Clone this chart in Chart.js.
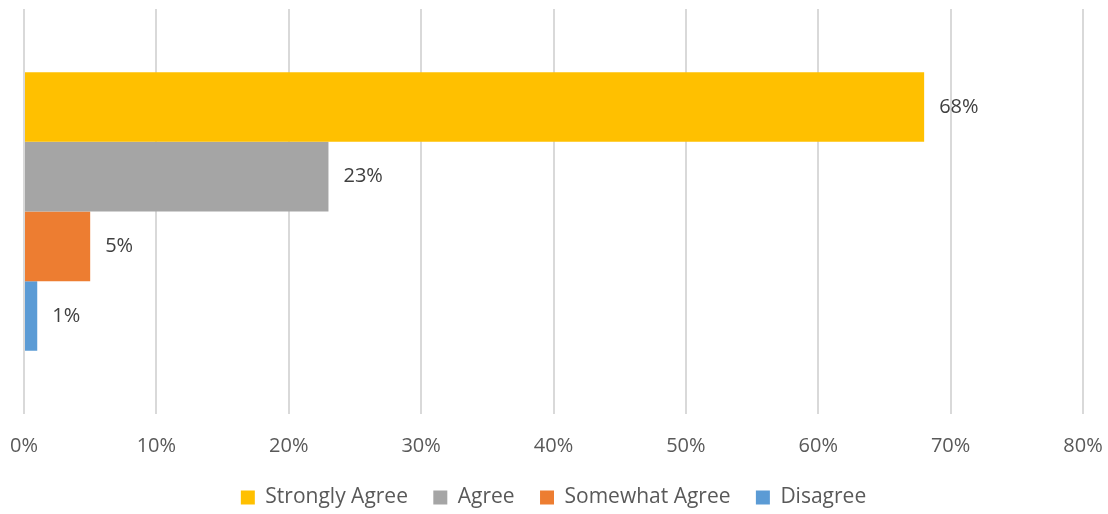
<!DOCTYPE html>
<html>
<head>
<meta charset="utf-8">
<script src="https://cdn.jsdelivr.net/npm/chart.js@4"></script>
<style>
  html, body { margin: 0; padding: 0; background: #fff; }
  #wrap { width: 1108px; height: 514px; }
</style>
</head>
<body>
<div id="wrap"><canvas id="myChart"></canvas></div>
<script>
var categories = [''];
var seriesNames = ['Strongly Agree', 'Agree', 'Somewhat Agree', 'Disagree'];
var seriesValues = [[68], [23], [5], [1]];
var seriesColors = ['#FFC000', '#A5A5A5', '#ED7D31', '#5B9BD5'];
var tickValues = [0, 10, 20, 30, 40, 50, 60, 70, 80];

var font = "'Open Sans', sans-serif";

// draws the value to the right of each bar
var valueLabels = {
  id: 'valueLabels',
  afterDatasetsDraw: function(chart) {
    var c = chart.ctx;
    c.save();
    c.font = '20px ' + font;
    c.fillStyle = '#404040';
    c.textBaseline = 'middle';
    c.textAlign = 'left';
    chart.data.datasets.forEach(function(ds, i) {
      chart.getDatasetMeta(i).data.forEach(function(bar, j) {
        c.fillText(ds.data[j] + '%', bar.x + 15, bar.y);
      });
    });
    c.restore();
  }
};

// legend box a little shorter so it sits lower, like the original
var legendTrim = {
  id: 'legendTrim',
  afterInit: function(chart) {
    var lg = chart.legend;
    if (!lg) return;
    var fit = lg.fit;
    lg.fit = function() {
      fit.call(this);
      this.height -= 4;
    };
  }
};

var ctx = document.getElementById('myChart').getContext('2d');
var myChart = new Chart(ctx, {
  type: 'bar',
  data: {
    labels: categories,
    datasets: seriesNames.map(function(name, i) {
      return {
        label: name,
        data: seriesValues[i],
        backgroundColor: seriesColors[i],
        categoryPercentage: 0.688,
        barPercentage: 1
      };
    })
  },
  options: {
    indexAxis: 'y',
    responsive: true,
    maintainAspectRatio: false,
    animation: false,
    layout: { padding: { left: 24, right: 25, top: 9, bottom: 0 } },
    scales: {
      x: {
        min: 0,
        max: 80,
        afterBuildTicks: function(axis) {
          axis.ticks = tickValues.map(function(v) { return { value: v }; });
        },
        afterFit: function(axis) {
          axis.paddingLeft = 0;
          axis.paddingRight = 0;
        },
        grid: { color: '#d9d9d9', lineWidth: 2, drawTicks: false },
        border: { display: false },
        ticks: {
          padding: 20,
          color: '#595959',
          font: { family: font, size: 20 },
          callback: function(v) { return v + '%'; }
        }
      },
      y: {
        display: false
      }
    },
    plugins: {
      legend: {
        position: 'bottom',
        labels: {
          boxWidth: 14,
          boxHeight: 14,
          padding: 9,
          color: '#595959',
          font: { family: font, size: 21 },
          // extra space after each item, like the wider gaps in the original
          generateLabels: function(chart) {
            var items = Chart.defaults.plugins.legend.labels.generateLabels(chart);
            items.forEach(function(it, i) {
              if (i < items.length - 1) it.text = it.text + '\u00a0\u00a0\u00a0';
            });
            return items;
          }
        }
      },
      tooltip: { enabled: false }
    }
  },
  plugins: [valueLabels, legendTrim]
});
</script>
</body>
</html>
